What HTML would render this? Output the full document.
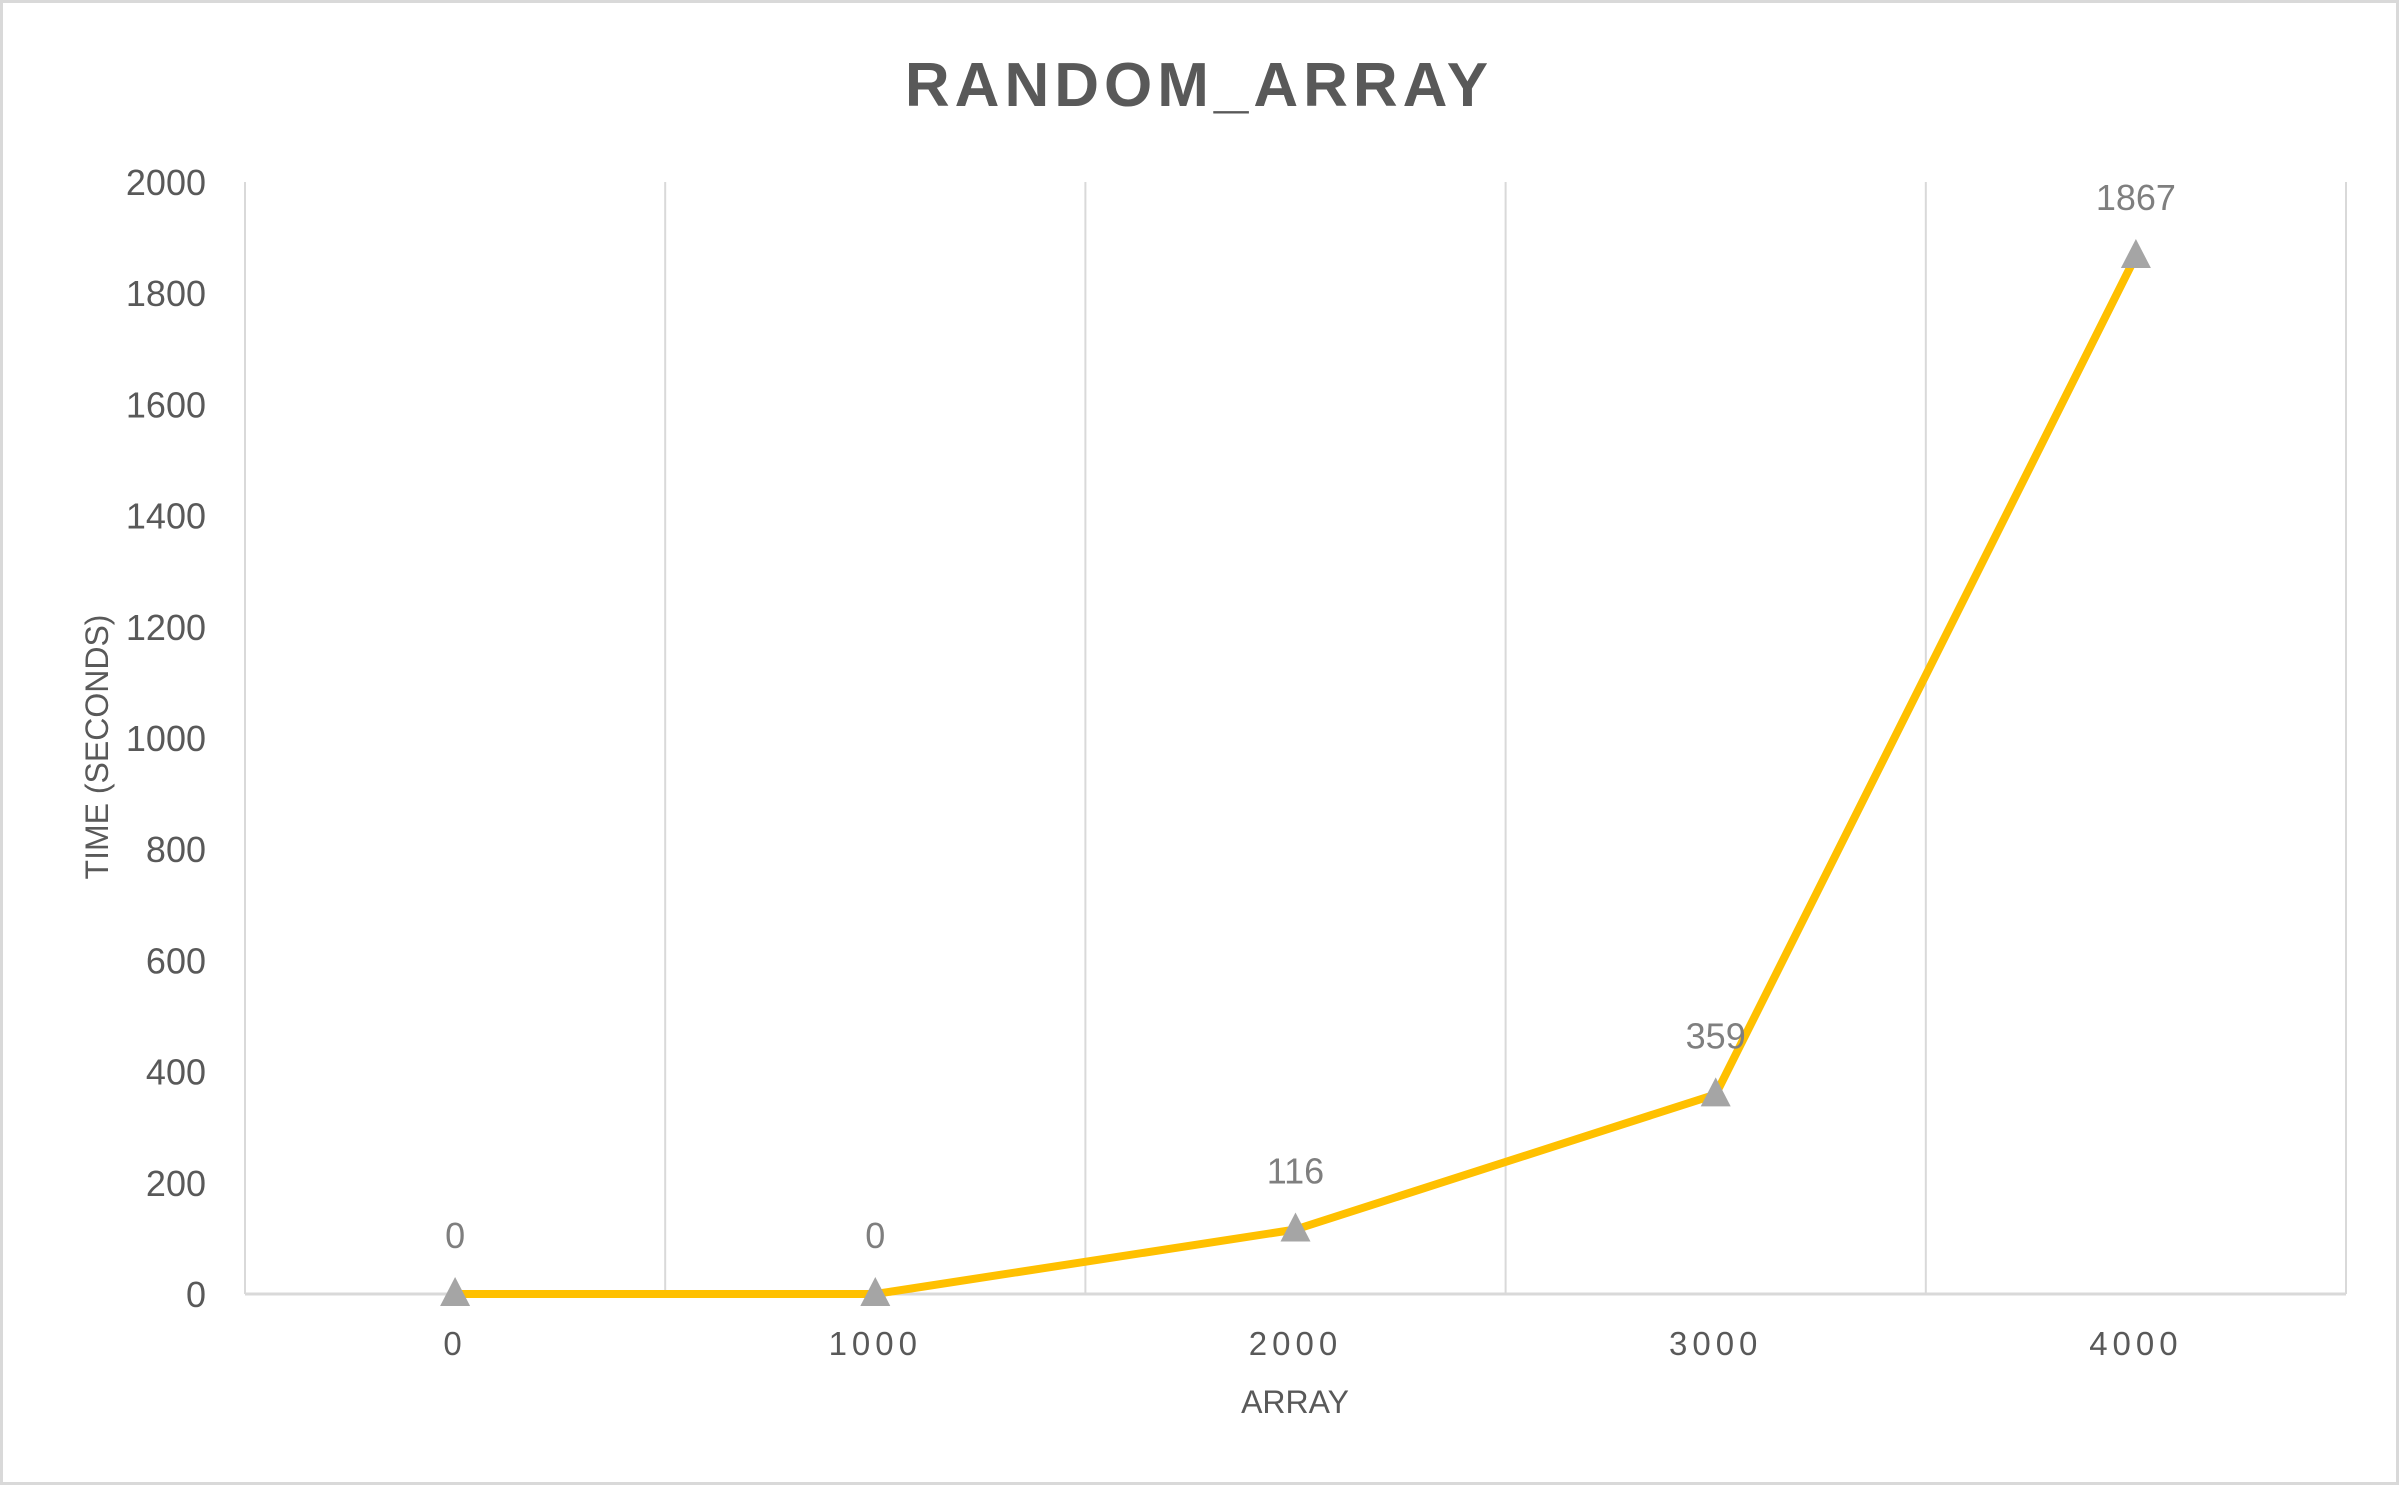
<!DOCTYPE html>
<html><head><meta charset="utf-8"><style>
html,body{margin:0;padding:0;background:#fff}
svg{display:block}
text{font-family:"Liberation Sans",sans-serif}
</style></head><body>
<svg id="chart" width="2399" height="1485" viewBox="0 0 2399 1485">
<rect x="1.5" y="1.5" width="2396" height="1482" fill="#fff" stroke="#d9d9d9" stroke-width="3"/>
<text x="1199" y="106" text-anchor="middle" font-size="62" font-weight="bold" fill="#595959" letter-spacing="5">RANDOM_ARRAY</text>
<text transform="translate(108,747) rotate(-90)" text-anchor="middle" font-size="32" fill="#595959">TIME (SECONDS)</text>
<text x="1295" y="1413" text-anchor="middle" font-size="32" fill="#595959">ARRAY</text>
<g id="grid"></g><g id="axes"></g><g id="series"></g>
</svg>
<script>
const categories = ["0","1000","2000","3000","4000"];
const values = [0, 0, 116, 359, 1867];
const yTicks = [0,200,400,600,800,1000,1200,1400,1600,1800,2000];
const L=245,R=2346,T=182,B=1294,yMax=2000;
const NS="http://www.w3.org/2000/svg";
const svg=document.getElementById('chart');
const cw=(R-L)/categories.length;
const xS=i=>L+cw*(i+0.5);
const yS=v=>B-(v/yMax)*(B-T);
function mk(t,a,p){const e=document.createElementNS(NS,t);for(const k in a)e.setAttribute(k,a[k]);p.appendChild(e);return e;}
const grid=document.getElementById('grid'),axes=document.getElementById('axes'),ser=document.getElementById('series');
for(let i=0;i<=categories.length;i++){
  const x=L+cw*i;
  const g=mk('line',{x1:x,x2:x,y1:T,y2:B,stroke:'#d9d9d9','stroke-width':2},grid);
  
  
}
const ax=mk('line',{x1:L,x2:R,y1:B,y2:B,stroke:'#d9d9d9','stroke-width':3},axes);


yTicks.forEach(v=>{
  const t=mk('text',{x:206,y:yS(v)+13,'text-anchor':'end','font-size':36,fill:'#595959'},axes);
  t.textContent=v;
  
  
});
categories.forEach((c,i)=>{
  const t=mk('text',{x:xS(i),y:1355,'text-anchor':'middle','font-size':33,fill:'#595959','letter-spacing':5},axes);
  t.textContent=c;
  
  
});
const pts=values.map((v,i)=>xS(i)+','+yS(v)).join(' ');
const pl=mk('polyline',{points:pts,fill:'none',stroke:'#ffc000','stroke-width':8,'stroke-linejoin':'round'},ser);


values.forEach((v,i)=>{
  const x=xS(i),y=yS(v);
  const m=mk('polygon',{points:`${x},${y-17} ${x-15},${y+12} ${x+15},${y+12}`,fill:'#a5a5a5'},ser);
  
  
  const t=mk('text',{x:x,y:y-46,'text-anchor':'middle','font-size':36,fill:'#7f7f7f'},ser);
  t.textContent=v;
  
  
});
</script>
</body></html>
